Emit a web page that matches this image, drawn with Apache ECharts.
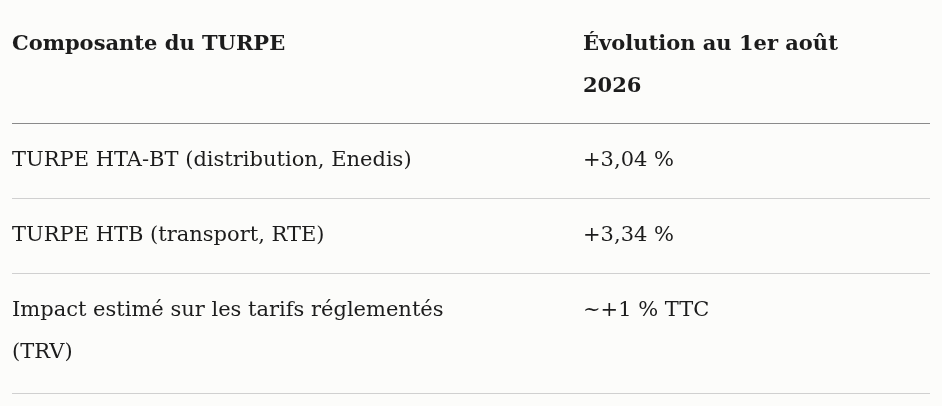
<!DOCTYPE html>
<html>
<head>
<meta charset="utf-8">
<script src="https://cdn.jsdelivr.net/npm/echarts@6/dist/echarts.min.js"></script>
<style>
  html, body { margin: 0; padding: 0; background: #fcfcfa; }
  #table_chart { width: 942px; height: 406px; }
</style>
</head>
<body>
<div id="table_chart"></div>
<script>
// contenu du tableau
var headers = ['Composante du TURPE', 'Évolution au 1er août\n2026'];
var components = ['TURPE HTA-BT (distribution, Enedis)', 'TURPE HTB (transport, RTE)', 'Impact estimé sur les tarifs réglementés\n(TRV)'];
var evolutions = ['+3,04 %', '+3,34 %', '~+1 % TTC'];

var chart = echarts.init(document.getElementById('table_chart'));

var FONT = '"DejaVu Serif", "Liberation Serif", serif';
var col1X = 12, col2X = 583, lineRight = 930;
var rowTops = [123, 198, 273];
var rowBottoms = [198, 273, 393];
var lineH = 42;

var elements = [];
// y = centre de la première ligne de texte
function txt(x, y, s, bold) {
    elements.push({
        type: 'text', x: x, y: y - lineH / 2,
        style: { text: s, fill: '#1c1c1c', font: (bold ? 'bold ' : '') + '21px ' + FONT,
                 lineHeight: lineH, verticalAlign: 'top' }
    });
}
function hline(y, color) {
    elements.push({
        type: 'line', shape: { x1: col1X, y1: y + 0.5, x2: lineRight, y2: y + 0.5 },
        style: { stroke: color, lineWidth: 1 }
    });
}

// en-tête
txt(col1X, 45, headers[0], true);
txt(col2X, 45, headers[1], true);
hline(rowTops[0], '#8a8a8a');

// lignes
for (var i = 0; i < components.length; i++) {
    var yc = rowTops[i] + 38;
    txt(col1X, yc, components[i], false);
    txt(col2X, yc, evolutions[i], false);
    hline(rowBottoms[i], '#d0d0d0');
}

chart.setOption({ backgroundColor: '#fcfcfa', graphic: elements });
</script>
</body>
</html>
